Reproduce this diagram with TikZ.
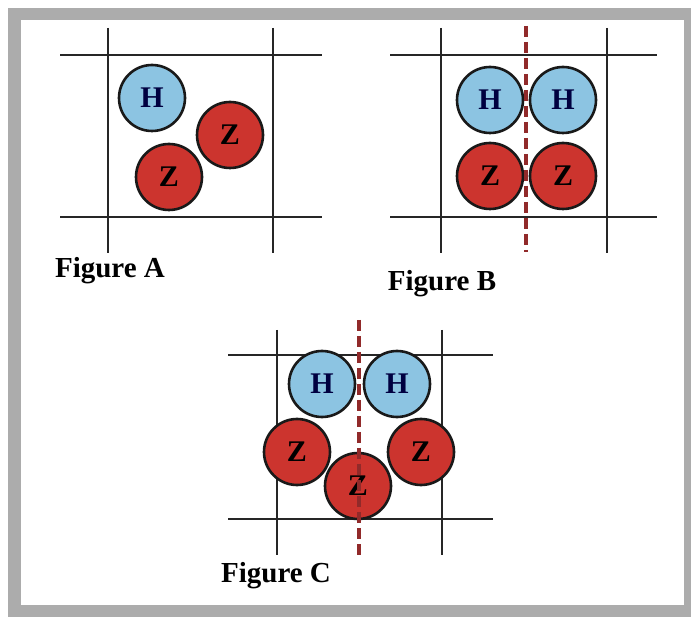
\documentclass[tikz,border=0pt]{standalone}
\usepackage{fontspec}
\setmainfont{Liberation Serif}
\definecolor{hblue}{RGB}{140,196,226}
\definecolor{zred}{RGB}{204,52,46}
\definecolor{dashred}{RGB}{145,42,42}
\definecolor{framegray}{RGB}{172,172,172}
\begin{document}
\begin{tikzpicture}[x=1pt,y=-1pt,
  grid/.style={line width=2.2pt,draw=black!85},
  atom/.style={circle,draw=black!90,line width=2.6pt,minimum size=66pt,inner sep=0pt,font=\fontsize{30}{30}\selectfont\bfseries},
  hatom/.style={atom,fill=hblue,text=black!75!blue},
  zatom/.style={atom,fill=zred,text=black},
  axis/.style={draw=dashred,line width=4pt,dash pattern=on 11pt off 5pt},
  lbl/.style={font=\fontsize{29}{29}\selectfont\bfseries,inner sep=0pt}]
\useasboundingbox (0,0) rectangle (691,617);
\fill[white] (0,0) rectangle (691,617);
\fill[framegray] (8,8) rectangle (691,617);
\fill[white] (21,20) rectangle (684,605);
% Figure A
\draw[grid] (60,55) -- (322,55);
\draw[grid] (60,217) -- (322,217);
\draw[grid] (108,28) -- (108,253);
\draw[grid] (273,28) -- (273,253);
\node[hatom] (ah) at (152,98) {H};
\node[zatom] (az1) at (230,135) {Z};
\node[zatom] (az2) at (169,177) {Z};
\node[lbl] (la) at (110,271) {Figure A};
% Figure B
\draw[grid] (390,55) -- (657,55);
\draw[grid] (390,217) -- (657,217);
\draw[grid] (441,28) -- (441,253);
\draw[grid] (607,28) -- (607,253);
\node[hatom] (bh1) at (490,100) {H};
\node[hatom] (bh2) at (563,100) {H};
\node[zatom] (bz1) at (490,176) {Z};
\node[zatom] (bz2) at (563,176) {Z};
\coordinate (bt) at (526,26);
\coordinate (bb) at (526,252);
\draw[axis] (bt) -- (bb);
\node[lbl] (lb) at (442,284) {Figure B};
% Figure C
\draw[grid] (228,355) -- (493,355);
\draw[grid] (228,519) -- (493,519);
\draw[grid] (277,330) -- (277,555);
\draw[grid] (442,330) -- (442,555);
\node[hatom] (ch1) at (322,384) {H};
\node[hatom] (ch2) at (397,384) {H};
\node[zatom] (cz1) at (297,452) {Z};
\node[zatom] (cz2) at (421,452) {Z};
\node[zatom] (cz3) at (358,486) {Z};
\coordinate (ct) at (359,320);
\coordinate (cb) at (359,556);
\draw[axis] (ct) -- (cb);
\node[lbl] (lc) at (276,576) {Figure C};
\end{tikzpicture}
\end{document}
